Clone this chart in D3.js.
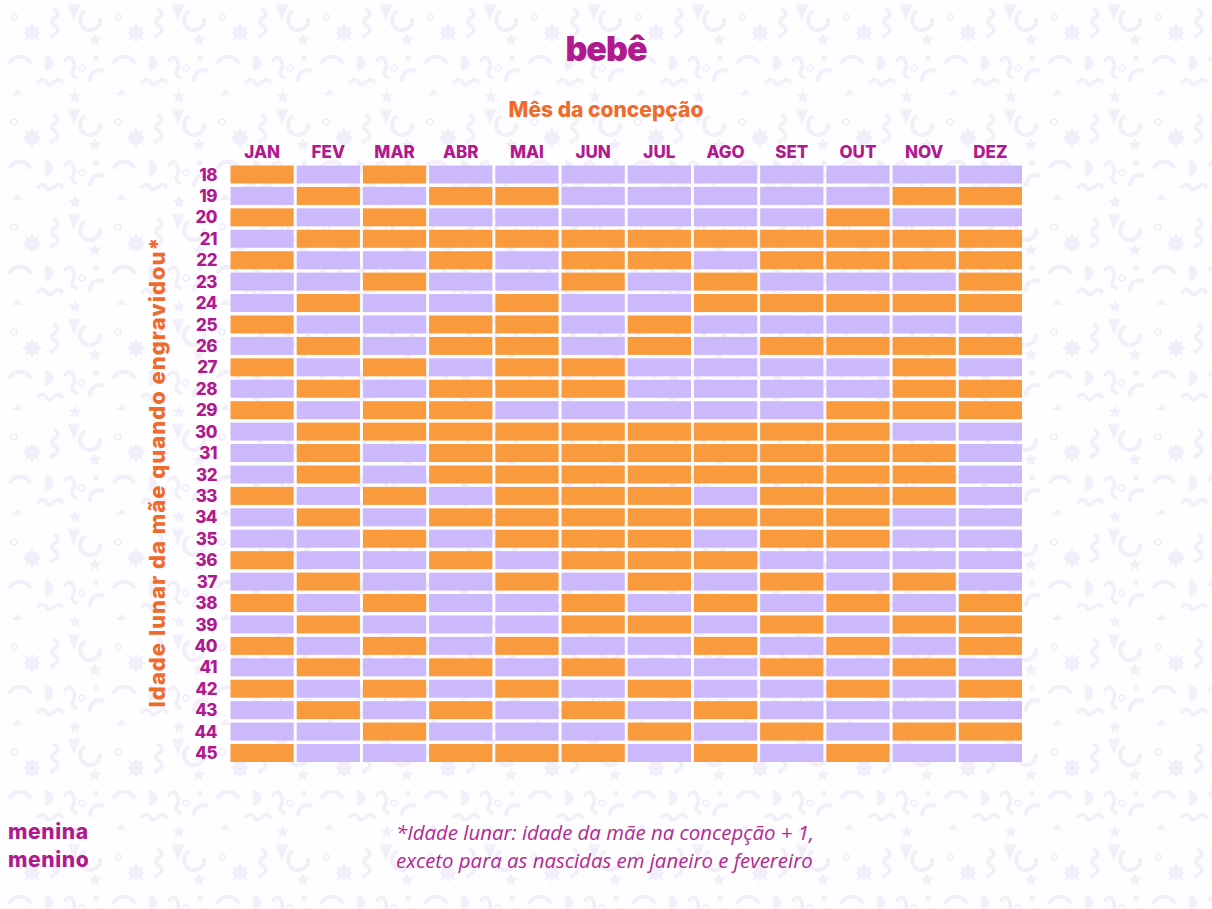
<!DOCTYPE html>
<html><head><meta charset="utf-8">
<script src="https://cdn.jsdelivr.net/npm/d3@7"></script>
<style>
html,body{margin:0;padding:0;background:#fdfcff;}
svg{display:block;}
</style></head>
<body>
<svg id="chart" width="1212" height="909"></svg>
<script>
// ---- data ----
const months = ["JAN","FEV","MAR","ABR","MAI","JUN","JUL","AGO","SET","OUT","NOV","DEZ"];
const ages = [18,19,20,21,22,23,24,25,26,27,28,29,30,31,32,33,34,35,36,37,38,39,40,41,42,43,44,45];
// A = menina (laranja), O = menino (lilás), one string per age, one letter per month
const sexByAge = [
  "AOAOOOOOOOOO", // 18
  "OAOAAOOOOOAA", // 19
  "AOAOOOOOOAOO", // 20
  "OAAAAAAAAAAA", // 21
  "AOOAOAAOAAAA", // 22
  "OOAOOAOAOOOA", // 23
  "OAOOAOOAAAAA", // 24
  "AOOAAOAOOOOO", // 25
  "OAOAAOAOAAAA", // 26
  "AOAOAAOOOOAO", // 27
  "OAOAAAOOOOAA", // 28
  "AOAAOOOOOAAA", // 29
  "OAAAAAAAAAOO", // 30
  "OAOAAAAAAAAO", // 31
  "OAOAAAAAAAAO", // 32
  "AOAOAAAOAAAO", // 33
  "OAOAAAAAAAOO", // 34
  "OOAOAAAOAAOO", // 35
  "AOOAOAAAOOOO", // 36
  "OAOOAOAOAOAO", // 37
  "AOAOOAOAOAOA", // 38
  "OAOOOAAOAOAA", // 39
  "AOAOAOOAOAOA", // 40
  "OAOAOAOOAOAO", // 41
  "AOAOAOAOOAOA", // 42
  "OAOAOAOAOOOO", // 43
  "OOAOOOAOAOAA", // 44
  "AOOAAAOAOAOO"  // 45
];
const legendLabels = ["menina","menino"];
const logoText = "bebê";
const xTitle = "Mês da concepção";
const yTitle = "Idade lunar da mãe quando engravidou*";
const footnote = ["*Idade lunar: idade da mãe na concepção + 1,","exceto para as nascidas em janeiro e fevereiro"];

// ---- drawing ----
const svg = d3.select("#chart");
const W = 1212, H = 909;
const magenta = "#b1198e", orangeTitle = "#ee6b2b";
const color = d3.scaleOrdinal().domain(["A","O"]).range(["#f99b3d","#cbb9fc"]);

// background doodle pattern (decorative)
const defs = svg.append("defs");
const pat = defs.append("pattern").attr("id","bg").attr("patternUnits","userSpaceOnUse")
  .attr("width",104).attr("height",105);
pat.append("rect").attr("width",104).attr("height",105).attr("fill","#fefdff");
const pc = "#f2eefa";
function star(cx,cy,r1,r2,n){const pts=[];for(let i=0;i<2*n;i++){const r=i%2?r2:r1;const a=Math.PI*i/n - Math.PI/2;pts.push([cx+r*Math.cos(a),cy+r*Math.sin(a)]);}return "M"+pts.map(p=>p.join(",")).join("L")+"Z";}
pat.append("path").attr("d",star(32,33,10,6,8)).attr("fill",pc);
pat.append("path").attr("d",star(95,40,7,3,5)).attr("fill",pc);
pat.append("path").attr("d",star(75,97,7,3,5)).attr("fill",pc);
pat.append("path").attr("d","M84,12 A10,10 0 1,0 100,20").attr("fill","none").attr("stroke",pc).attr("stroke-width",4).attr("stroke-linecap","round");
pat.append("path").attr("d","M10,62 A12,12 0 0,1 30,62").attr("fill","none").attr("stroke",pc).attr("stroke-width",4).attr("stroke-linecap","round");
pat.append("path").attr("d","M90,80 A10,10 0 0,1 110,80").attr("fill","none").attr("stroke",pc).attr("stroke-width",4).attr("stroke-linecap","round");
pat.append("path").attr("d","M55,10 q6,4 0,8 q-6,4 0,8 q6,4 0,8").attr("fill","none").attr("stroke",pc).attr("stroke-width",3.5).attr("stroke-linecap","round");
pat.append("path").attr("d","M65,60 q5,-6 8,0 q3,6 0,10 q-3,5 3,8").attr("fill","none").attr("stroke",pc).attr("stroke-width",3.5).attr("stroke-linecap","round");
pat.append("path").attr("d","M38,82 q5,-5 8,0 q3,5 8,0 q5,-5 8,0").attr("fill","none").attr("stroke",pc).attr("stroke-width",3.5).attr("stroke-linecap","round");
pat.append("path").attr("d","M70,5 L74,16 L78,5 M74,16 L74,5").attr("fill","none").attr("stroke",pc).attr("stroke-width",3).attr("stroke-linecap","round");
pat.append("circle").attr("cx",14).attr("cy",17).attr("r",3).attr("fill","none").attr("stroke",pc).attr("stroke-width",1.5);
pat.append("circle").attr("cx",82).attr("cy",68).attr("r",3).attr("fill","none").attr("stroke",pc).attr("stroke-width",1.5);
pat.append("circle").attr("cx",52).attr("cy",36).attr("r",2.5).attr("fill",pc);
pat.append("circle").attr("cx",96).attr("cy",58).attr("r",2.5).attr("fill",pc);
pat.append("path").attr("d","M45,55 a8,8 0 0,1 0,16 z").attr("fill",pc);
pat.append("path").attr("d","M12,95 l6,-6 l4,6 z").attr("fill",pc);
svg.append("rect").attr("width",W).attr("height",H).attr("fill","url(#bg)");

const x = d3.scaleBand().domain(months).range([230.5,1022]).paddingInner(0.045).paddingOuter(0);
const y = d3.scaleBand().domain(ages).range([165.5,762]).paddingInner(0.16).paddingOuter(0);

const cells = [];
ages.forEach((a,i)=>months.forEach((m,j)=>cells.push({age:a,month:m,sex:sexByAge[i][j]})));

svg.append("g").selectAll("rect").data(cells).join("rect")
  .attr("x",d=>x(d.month)).attr("y",d=>y(d.age))
  .attr("width",x.bandwidth()).attr("height",y.bandwidth())
  .attr("fill",d=>color(d.sex));

// axes
const font = "Inter, 'Open Sans', sans-serif";
const xAxis = svg.append("g").attr("transform","translate(0,152)")
  .call(d3.axisTop(x).tickSize(0).tickPadding(0));
xAxis.select(".domain").remove();
xAxis.selectAll("text").attr("dy","0.36em").attr("y",0)
  .attr("fill",magenta).style("font-family",font).style("font-weight",800).style("font-size","17px");

const yAxis = svg.append("g").attr("transform","translate(217,0)")
  .call(d3.axisLeft(y).tickSize(0).tickPadding(0));
yAxis.select(".domain").remove();
yAxis.selectAll("text").attr("dy","0.36em")
  .attr("fill",magenta).style("font-family",font).style("font-weight",800).style("font-size","17px")
  .style("letter-spacing","-0.5px");

// titles
svg.append("text").attr("x",606).attr("y",61).attr("text-anchor","middle")
  .attr("fill",magenta).style("font-family",font).style("font-weight",900).style("font-size","34px")
  .style("letter-spacing","-1px").text(logoText);
svg.append("text").attr("x",606).attr("y",117).attr("text-anchor","middle")
  .attr("fill",orangeTitle).style("font-family",font).style("font-weight",800).style("font-size","21px")
  .text(xTitle);
svg.append("text").attr("transform","translate(165,472) rotate(-90)").attr("text-anchor","middle")
  .attr("fill",orangeTitle).style("font-family",font).style("font-weight",800).style("font-size","22px")
  .style("letter-spacing","1px").text(yTitle);

// legend
svg.append("g").selectAll("text").data(legendLabels).join("text")
  .attr("x",8).attr("y",(d,i)=>839+i*28)
  .attr("fill",magenta).style("font-family",font).style("font-weight",800).style("font-size","21px")
  .style("letter-spacing","0.6px").text(d=>d);

// footnote
svg.append("g").selectAll("text").data(footnote).join("text")
  .attr("x",396).attr("y",(d,i)=>840+i*28)
  .attr("fill","#b02a8f").style("font-family","'Open Sans', sans-serif").style("font-style","italic")
  .style("font-size","20.4px").text(d=>d);
</script>
</body></html>
